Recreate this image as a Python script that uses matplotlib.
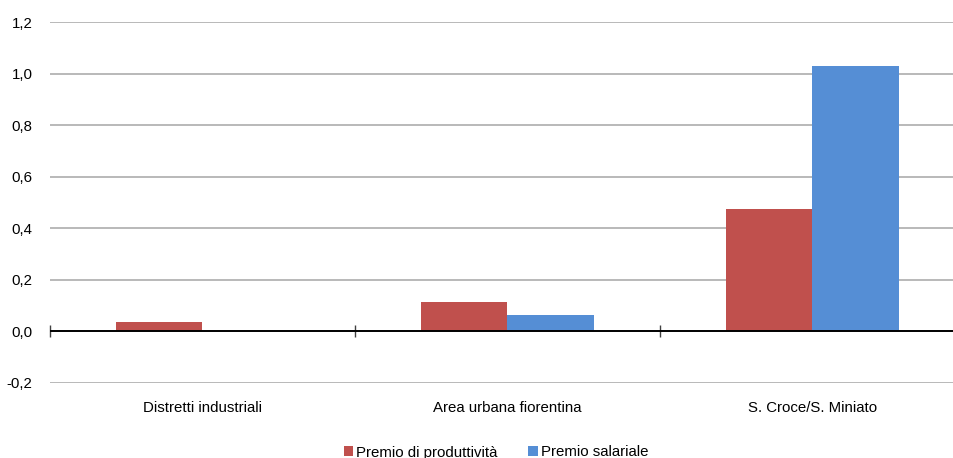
import matplotlib
matplotlib.use("Agg")
import matplotlib.pyplot as plt
from matplotlib.ticker import FuncFormatter
import numpy as np

plt.rcParams['font.family'] = ['Liberation Sans', 'DejaVu Sans']

categories = ["Distretti industriali", "Area urbana fiorentina", "S. Croce/S. Miniato"]
series_names = ["Premio di produttività", "Premio salariale"]
premio_produttivita = [0.034, 0.112, 0.473]
premio_salariale = [0.0, 0.062, 1.030]
colors = ["#C0504D", "#558ED5"]

FS = 10.8

fig = plt.figure(figsize=(9.54, 4.58), dpi=100)
ymin, ymax = -0.2, 1.2
ax = fig.add_axes([50/954, 1 - 382.7/458, 915/954, 360.4/458])

x = np.arange(len(categories))
w = 0.285
ax.bar(x - w/2, premio_produttivita, w, color=colors[0], label=series_names[0], zorder=3)
ax.bar(x + w/2, premio_salariale, w, color=colors[1], label=series_names[1], zorder=3)

ax.set_xlim(-0.5, len(categories) - 0.5)
ax.set_ylim(ymin, ymax)
ax.set_yticks(np.arange(-0.2, 1.21, 0.2))
ax.yaxis.set_major_formatter(FuncFormatter(lambda v, p: f"{v:.1f}".replace('.', ',').replace('-0,0', '0,0')))
ax.grid(axis='y', color='#A6A6A6', linewidth=1.1, zorder=0)
ax.tick_params(axis='y', length=0, pad=12.5, labelsize=FS)
ax.set_xticks(x)
ax.set_xticklabels(categories)
ax.tick_params(axis='x', length=0, pad=13, labelsize=FS)
for s in ax.spines.values():
    s.set_visible(False)

# zero line
ax.axhline(0, color='black', linewidth=1.4, zorder=4)

# category separator ticks on the zero line
loc0 = (0 - ymin) / (ymax - ymin)
sec = ax.secondary_xaxis(loc0)
sec.set_xticks(np.arange(-0.5, len(categories), 1.0))
sec.set_xticklabels([])
sec.tick_params(axis='x', direction='inout', length=8.5, width=1.0, color='#404040')
for k in ['top', 'left', 'right', 'bottom']:
    sec.spines[k].set_visible(False)

handles, labels = ax.get_legend_handles_labels()
fig.legend(handles, labels, loc='upper center', bbox_to_anchor=(496/954, 1 - 438/458),
           ncol=2, frameon=False, fontsize=FS, handlelength=0.62, handleheight=0.62,
           handletextpad=0.2, columnspacing=2.05, borderpad=0)

fig.savefig("out.png", dpi=100)
